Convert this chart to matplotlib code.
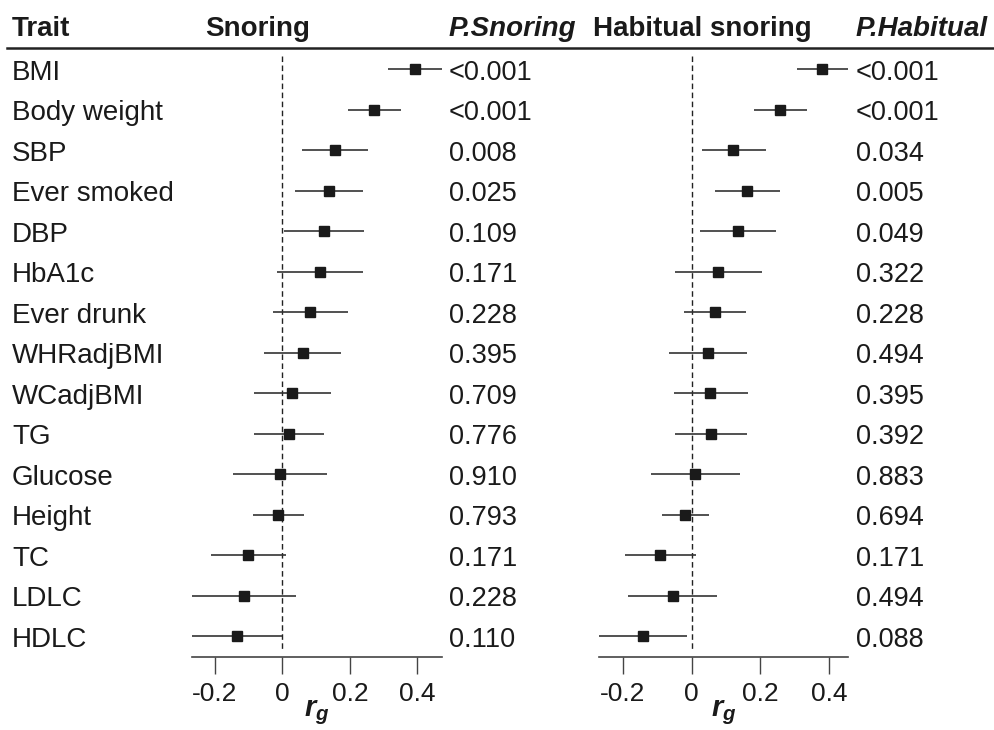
import numpy as np
import matplotlib
matplotlib.use("Agg")
import matplotlib.pyplot as plt
import matplotlib.transforms as mtransforms
from matplotlib.lines import Line2D

plt.rcParams['font.family'] = ['Liberation Sans', 'DejaVu Sans']
plt.rcParams['mathtext.fontset'] = 'custom'
plt.rcParams['mathtext.it'] = 'Liberation Sans:italic:bold'
plt.rcParams['mathtext.rm'] = 'Liberation Sans:bold'

traits = ["BMI", "Body weight", "SBP", "Ever smoked", "DBP", "HbA1c", "Ever drunk",
          "WHRadjBMI", "WCadjBMI", "TG", "Glucose", "Height", "TC", "LDLC", "HDLC"]

# genetic correlation with snoring
snoring_rg = [0.393, 0.271, 0.155, 0.138, 0.123, 0.112, 0.083, 0.060, 0.028, 0.019,
              -0.008, -0.013, -0.102, -0.113, -0.136]
snoring_lo = [0.314, 0.193, 0.058, 0.038, 0.004, -0.015, -0.028, -0.054, -0.084, -0.083,
              -0.145, -0.087, -0.213, -0.275, -0.275]
snoring_hi = [0.475, 0.351, 0.254, 0.239, 0.242, 0.240, 0.195, 0.174, 0.143, 0.124,
              0.131, 0.065, 0.012, 0.039, 0.000]
snoring_p = ["<0.001", "<0.001", "0.008", "0.025", "0.109", "0.171", "0.228", "0.395",
             "0.709", "0.776", "0.910", "0.793", "0.171", "0.228", "0.110"]

# genetic correlation with habitual snoring
habitual_rg = [0.381, 0.257, 0.121, 0.161, 0.135, 0.078, 0.068, 0.048, 0.055, 0.057,
               0.011, -0.020, -0.092, -0.055, -0.142]
habitual_lo = [0.306, 0.181, 0.029, 0.069, 0.025, -0.048, -0.022, -0.066, -0.051, -0.047,
               -0.117, -0.087, -0.195, -0.186, -0.275]
habitual_hi = [0.460, 0.336, 0.216, 0.257, 0.247, 0.206, 0.159, 0.163, 0.165, 0.161,
               0.140, 0.050, 0.013, 0.075, -0.013]
habitual_p = ["<0.001", "<0.001", "0.034", "0.005", "0.049", "0.322", "0.228", "0.494",
              "0.395", "0.392", "0.883", "0.694", "0.171", "0.494", "0.088"]

xticks = [-0.2, 0, 0.2, 0.4]
xtick_labels = ["-0.2", "0", "0.2", "0.4"]

W, H = 995, 730
INK = "#1a1a1a"


def fx(px):
    return px / W


def fy(py):
    return 1 - py / H


fig = plt.figure(figsize=(W / 100, H / 100), dpi=100)

ax_top, ax_bot = 48, 656.7
row0, row_step = 69, 40.52
y_bottom = (ax_bot - row0) / row_step
y_top = (ax_top - row0) / row_step
rows = np.arange(len(traits))

panels = [
    (192.3, 441.7, (-0.267, 0.472), snoring_rg, snoring_lo, snoring_hi),
    (599.0, 848.3, (-0.270, 0.457), habitual_rg, habitual_lo, habitual_hi),
]
axes = []
for left, right, xlim, rg, lo, hi in panels:
    ax = fig.add_axes([fx(left), fy(ax_bot), fx(right) - fx(left), (ax_bot - ax_top) / H])
    ax.set_facecolor("none")
    ax.set_xlim(*xlim)
    ax.set_ylim(y_bottom, y_top)
    ax.vlines(0, (56 - row0) / row_step, (650 - row0) / row_step, colors="#222222",
              linewidth=1.0, linestyles=(0, (4, 2.5)))
    ax.hlines(rows, lo, hi, colors="#333333", linewidth=1.2)
    ax.plot(rg, rows, "s", ms=7.5, color=INK, linestyle="none")
    for side in ["top", "left", "right"]:
        ax.spines[side].set_visible(False)
    ax.spines["bottom"].set_color("#444444")
    ax.spines["bottom"].set_linewidth(1.2)
    ax.set_yticks([])
    ax.set_xticks(xticks)
    ax.set_xticklabels(xtick_labels)
    ax.tick_params(axis="x", length=12, width=1.0, color="#444444", pad=6,
                   labelsize=19, labelcolor=INK)
    axes.append(ax)

# row texts placed on the baseline of each row
row_trans = mtransforms.blended_transform_factory(fig.transFigure, axes[0].transData)
row_trans = mtransforms.offset_copy(row_trans, fig=fig, y=-10.5, units="dots")
for i, t in enumerate(traits):
    fig.text(fx(12), i, t, transform=row_trans, fontsize=20, color=INK, va="baseline")
    fig.text(fx(449), i, snoring_p[i], transform=row_trans, fontsize=19.5, color=INK,
             va="baseline")
    fig.text(fx(856), i, habitual_p[i], transform=row_trans, fontsize=19.5, color=INK,
             va="baseline")

# header
hy = fy(35.7)
fig.text(fx(12), hy, "Trait", fontsize=20, fontweight="bold", color=INK, va="baseline")
fig.text(fx(205), hy, "Snoring", fontsize=20, fontweight="bold", color=INK, va="baseline")
fig.text(fx(449), hy, "P.Snoring", fontsize=20, fontweight="bold", fontstyle="italic",
         color=INK, va="baseline")
fig.text(fx(593), hy, "Habitual snoring", fontsize=20, fontweight="bold", color=INK,
         va="baseline")
fig.text(fx(856), hy, "P.Habitual", fontsize=20, fontweight="bold", fontstyle="italic",
         color=INK, va="baseline")
fig.add_artist(Line2D([fx(7), 1], [fy(48.3), fy(48.3)], transform=fig.transFigure,
                      lw=1.8, color="#222222"))

# axis labels
for left, right, *_ in panels:
    fig.text(fx((left + right) / 2), fy(716), r"$r_g$", fontsize=21, color=INK,
             ha="center", va="baseline")

fig.savefig("out.png", dpi=100)
